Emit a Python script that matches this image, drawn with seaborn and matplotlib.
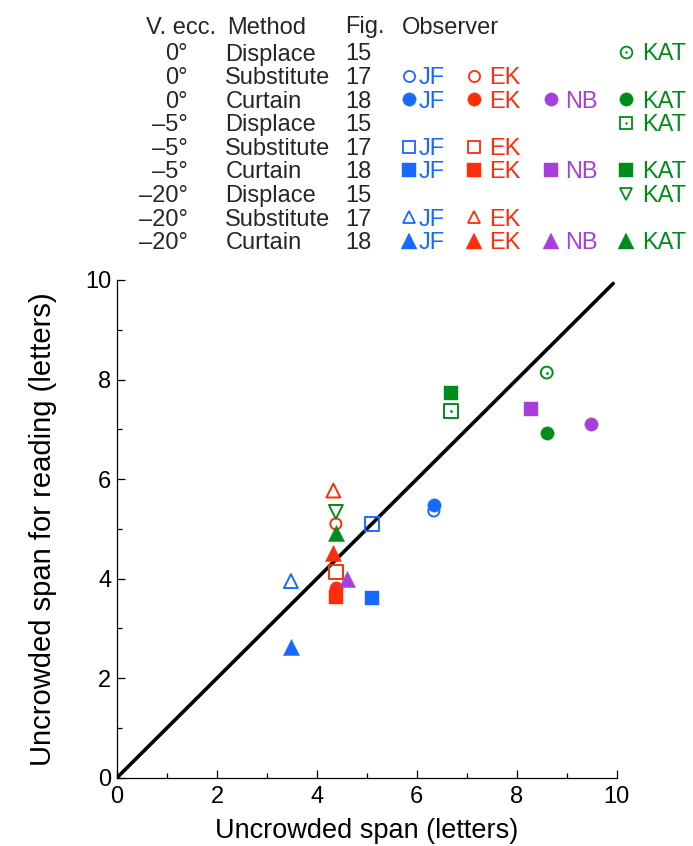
import numpy as np
import pandas as pd
import matplotlib
matplotlib.use("Agg")
import matplotlib.pyplot as plt
import seaborn as sns
from matplotlib.lines import Line2D

# ---------------- data ----------------
row_ecc = ["0°", "0°", "0°", "–5°", "–5°", "–5°", "–20°", "–20°", "–20°"]
row_method = ["Displace", "Substitute", "Curtain"] * 3
row_fig = ["15", "17", "18"] * 3
row_marker = ["o", "o", "o", "s", "s", "s", "v", "^", "^"]
row_fill = ["dot", "open", "filled"] * 3

observers = ["JF", "EK", "NB", "KAT"]
obs_colors = ["#1769FF", "#FF2D0A", "#A83FDC", "#008C1A"]

jf_x = [None, 6.34, 6.34, None, 5.11, 5.11, None, 3.48, 3.48]
jf_y = [None, 5.36, 5.48, None, 5.09, 3.62, None, 3.95, 2.62]
ek_x = [None, 4.38, 4.38, None, 4.38, 4.38, None, 4.33, 4.33]
ek_y = [None, 5.10, 3.81, None, 4.14, 3.63, None, 5.77, 4.51]
nb_x = [None, None, 9.48, None, None, 8.28, None, None, 4.61]
nb_y = [None, None, 7.11, None, None, 7.41, None, None, 4.00]
kat_x = [8.60, None, 8.60, 6.68, None, 6.68, 4.38, None, 4.38]
kat_y = [8.14, None, 6.92, 7.36, None, 7.72, 5.34, None, 4.92]

diag_x = [0, 9.93]
diag_y = [0, 9.93]

obs_x = [jf_x, ek_x, nb_x, kat_x]
obs_y = [jf_y, ek_y, nb_y, kat_y]

records = []
for oi, obs in enumerate(observers):
    for ri in range(9):
        if obs_x[oi][ri] is not None:
            records.append(dict(observer=obs, row=ri, x=obs_x[oi][ri], y=obs_y[oi][ri]))
df = pd.DataFrame(records)

# ---------------- style ----------------
sns.set_style("ticks")
plt.rcParams["font.family"] = ["Liberation Sans", "DejaVu Sans"]

W, H = 693, 846
fig = plt.figure(figsize=(W / 100, H / 100), dpi=100)
ax = fig.add_axes([117 / W, 1 - 777.7 / H, (616.7 - 117) / W, (777.7 - 280) / H])

sns.lineplot(x=diag_x, y=diag_y, ax=ax, color="black", linewidth=2.6, zorder=2)

# marker sizes (points^2) in plot
plot_s = {("o", "filled"): 92, ("o", "open"): 64, ("o", "dot"): 72,
          ("s", "filled"): 115, ("s", "open"): 100, ("s", "dot"): 100,
          ("^", "filled"): 135, ("^", "open"): 100, ("v", "dot"): 100}

for oi, obs in enumerate(observers):
    col = obs_colors[oi]
    sub_o = df[df.observer == obs]
    for ri in sorted(sub_o.row.unique()):
        sub = sub_o[sub_o.row == ri]
        m = row_marker[ri]
        fill = row_fill[ri]
        s = plot_s[(m, fill)]
        if fill == "filled":
            sns.scatterplot(data=sub, x="x", y="y", ax=ax, marker=m, s=s,
                            color=col, edgecolor=col, linewidth=0.3, zorder=3)
        else:
            sns.scatterplot(data=sub, x="x", y="y", ax=ax, marker=m, s=s,
                            color=col, facecolor="none", edgecolor=col,
                            linewidth=1.4, zorder=3)
            if fill == "dot" and m != "v":
                sns.scatterplot(data=sub, x="x", y="y", ax=ax, marker="o", s=4,
                                color=col, edgecolor=col, linewidth=0, zorder=4)

ax.set_xlim(0, 10)
ax.set_ylim(0, 10)
ax.set_xticks([0, 2, 4, 6, 8, 10])
ax.set_yticks([0, 2, 4, 6, 8, 10])
ax.set_xticks([1, 3, 5, 7, 9], minor=True)
ax.set_yticks([1, 3, 5, 7, 9], minor=True)
ax.tick_params(which="major", direction="in", length=6, width=0.9,
               labelsize=17, color="black", labelcolor="black")
ax.tick_params(which="minor", direction="in", length=3.5, width=0.9, color="black")
ax.tick_params(axis="x", which="major", pad=6)
ax.tick_params(axis="y", which="major", pad=4)
for sp in ["top", "right"]:
    ax.spines[sp].set_visible(False)
for sp in ["left", "bottom"]:
    ax.spines[sp].set_linewidth(0.9)
    ax.spines[sp].set_color("black")
ax.set_xlabel("Uncrowded span (letters)", fontsize=19.5, labelpad=7, color="black")
ax.set_ylabel("Uncrowded span for reading (letters)", fontsize=21, labelpad=20, color="black")

# ---------------- legend table ----------------
def fx(px):
    return px / W

def fy(py):
    return 1 - py / H

FS = 17
header_base = 33.5
row_base0 = 60.5
row_step = 23.6

fig.text(fx(146), fy(header_base), "V. ecc.", fontsize=FS, va="baseline", ha="left")
fig.text(fx(227), fy(header_base), "Method", fontsize=FS, va="baseline", ha="left")
fig.text(fx(345.5), fy(header_base), "Fig.", fontsize=FS, va="baseline", ha="left")
fig.text(fx(401.5), fy(header_base), "Observer", fontsize=FS, va="baseline", ha="left")

obs_marker_x = [408.8, 473.5, 550.9, 626.4]
obs_text_x = [418.5, 489.0, 565.0, 642.0]

leg_ms = {("o", "filled"): 9.6, ("o", "open"): 8.0, ("o", "dot"): 8.4,
          ("s", "filled"): 10.2, ("s", "open"): 9.0, ("s", "dot"): 9.0,
          ("^", "filled"): 11.0, ("^", "open"): 9.2, ("v", "dot"): 9.2}

for ri in range(9):
    base = row_base0 + ri * row_step
    fig.text(fx(188), fy(base), row_ecc[ri], fontsize=FS, va="baseline", ha="right")
    fig.text(fx(225.3), fy(base), row_method[ri], fontsize=FS, va="baseline", ha="left")
    fig.text(fx(345.5), fy(base), row_fig[ri], fontsize=FS, va="baseline", ha="left")
    m = row_marker[ri]
    fill = row_fill[ri]
    for oi, obs in enumerate(observers):
        if obs_x[oi][ri] is None:
            continue
        col = obs_colors[oi]
        cy = fy(base - 8.3)
        cx = fx(obs_marker_x[oi])
        ms = leg_ms[(m, fill)]
        if fill == "filled":
            fig.add_artist(Line2D([cx], [cy], marker=m, ms=ms, color=col,
                                  mfc=col, mec=col, mew=0.3, linestyle="none"))
        else:
            fig.add_artist(Line2D([cx], [cy], marker=m, ms=ms, color=col,
                                  mfc="none", mec=col, mew=1.3, linestyle="none"))
            if fill == "dot" and m != "v":
                fig.add_artist(Line2D([cx], [cy], marker="o", ms=1.8, color=col,
                                      mfc=col, mec=col, mew=0, linestyle="none"))
        fig.text(fx(obs_text_x[oi]), fy(base), obs, fontsize=FS, va="baseline",
                 ha="left", color=col)

fig.savefig("out.png", dpi=100)
